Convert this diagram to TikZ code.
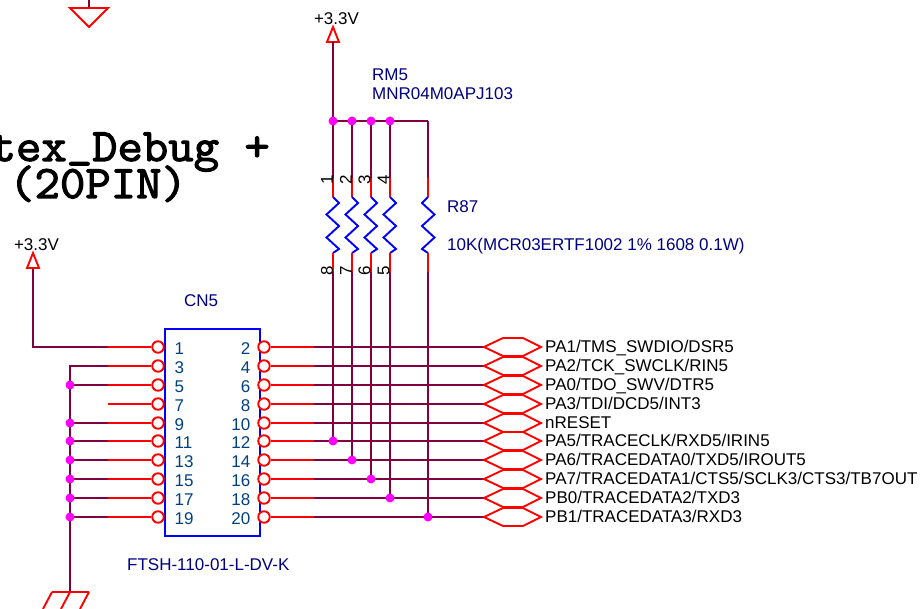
\documentclass[tikz,border=0pt]{standalone}
\usepackage{fontspec}
\setmainfont{Liberation Sans}
\newfontfamily\titlefont[FakeBold=2.5,FakeStretch=1.06]{Latin Modern Mono}
\usetikzlibrary{calc}
\definecolor{wirec}{HTML}{800040}
\definecolor{labc}{HTML}{000080}
\definecolor{pinc}{HTML}{004080}
\definecolor{jcol}{RGB}{255,0,255}
\definecolor{redc}{RGB}{255,0,0}
\definecolor{bluec}{RGB}{0,0,255}
\tikzset{
  wirepath/.style={draw=wirec,line width=1.9pt},
  redpath/.style={draw=redc,line width=1.9pt},
  bluepath/.style={draw=bluec,line width=1.9pt},
  pincirc/.style={circle,draw=redc,line width=1.9pt,minimum size=11.5pt,inner sep=0pt,fill=white},
  junc/.style={circle,fill=jcol,minimum size=9pt,inner sep=0pt},
  txt/.style={font=\fontsize{17}{18}\selectfont,inner sep=0pt},
  nettxt/.style={txt,anchor=base west,text=black},
  partxt/.style={txt,anchor=base west,text=labc},
  pintxt/.style={txt,text=pinc},
  vertxt/.style={txt,text=black,rotate=90,anchor=center},
  titletxt/.style={font=\titlefont\fontsize{46.5}{46.5}\selectfont,inner sep=0pt,text=black},
  hexa/.pic={\draw[redpath,line join=miter,fill=white] (0,0) -- (19,-9) -- (39,-9) -- (57,0) -- (39,9) -- (19,9) -- cycle;}
}
\begin{document}
\begin{tikzpicture}[x=1pt,y=-1pt]
\useasboundingbox (0,0) rectangle (922,609);

% title
\node[titletxt,anchor=base east] (title1) at (270,161) {tex\raisebox{5pt}{\_}Debug +};
\node[titletxt,anchor=base west] (title2) at (9,198) {(20PIN)};

% top-left ground
\coordinate (gndTopIn) at (89,0);
\coordinate (gndTop) at (89,8);
\draw[wirepath] (gndTopIn) -- (gndTop);
\draw[redpath] (70,8) -- (108,8) -- (89,27) -- cycle;

% connector body
\node[draw=bluec,line width=1.9pt,minimum width=95pt,minimum height=207pt,inner sep=0pt,anchor=north west] (CN) at (164,328) {};
\node[partxt] (cn5) at (184,307) {CN5};
\node[partxt] (ftsh) at (127,571) {FTSH-110-01-L-DV-K};

% pins
\foreach \n [count=\i from 0] in {1,3,...,19}{
  \pgfmathsetmacro{\yy}{round(347.3+18.8*\i)}
  \node[pincirc] (L\n) at (158,\yy) {};
  \coordinate (LS\n) at (108,\yy);
  \draw[redpath] (LS\n) -- (L\n);
  \node[pintxt,anchor=base west] (LT\n) at (174.5,\yy+7.5) {\n};
}
\foreach \n [count=\i from 0] in {2,4,...,20}{
  \pgfmathsetmacro{\yy}{round(347.3+18.8*\i)}
  \node[pincirc] (R\n) at (264,\yy) {};
  \coordinate (RS\n) at (314,\yy);
  \coordinate (H\n) at (484,\yy);
  \draw[redpath] (R\n) -- (RS\n);
  \draw[wirepath] (RS\n) -- (H\n);
  \pic at (H\n) {hexa};
  \node[pintxt,anchor=base east] (RT\n) at (250.5,\yy+7.5) {\n};
}

% net labels
\node[nettxt] at ($(H2)+(61,6)$)  {PA1/TMS\_SWDIO/DSR5};
\node[nettxt] at ($(H4)+(61,6)$)  {PA2/TCK\_SWCLK/RIN5};
\node[nettxt] at ($(H6)+(61,6)$)  {PA0/TDO\_SWV/DTR5};
\node[nettxt] at ($(H8)+(61,6)$)  {PA3/TDI/DCD5/INT3};
\node[nettxt] at ($(H10)+(61,6)$) {nRESET};
\node[nettxt] at ($(H12)+(61,6)$) {PA5/TRACECLK/RXD5/IRIN5};
\node[nettxt] at ($(H14)+(61,6)$) {PA6/TRACEDATA0/TXD5/IROUT5};
\node[nettxt] at ($(H16)+(61,6)$) {PA7/TRACEDATA1/CTS5/SCLK3/CTS3/TB7OUT};
\node[nettxt] at ($(H18)+(61,6)$) {PB0/TRACEDATA2/TXD3};
\node[nettxt] at ($(H20)+(61,6)$) {PB1/TRACEDATA3/RXD3};

% left wiring
\coordinate (vcc2) at (33,268);
\coordinate (gndBus) at (70,592);
\draw[wirepath] (vcc2) |- (LS1);
\draw[wirepath] (gndBus) -- (70,366) -- (LS3);
\foreach \n in {5,9,11,13,15,17,19}{
  \draw[wirepath] (70,0 |- LS\n) -- (LS\n);
  \node[junc] at (70,0 |- LS\n) {};
}
\draw[redpath] (33,253) -- (39,268) -- (27,268) -- cycle;
\node[txt,anchor=base,text=black] (v2) at (36.5,251) {+3.3V};

% bottom ground
\draw[redpath] (52,592) -- (89,592);
\draw[redpath] (52,592) -- (43,609) (70,592) -- (61,609) (89,592) -- (80,609);

% resistor network
\coordinate (vcc1) at (333,42);
\draw[redpath] (333,27) -- (339,42) -- (327,42) -- cycle;
\node[txt,anchor=base,text=black] (v1) at (336.5,25) {+3.3V};
\coordinate (T1) at (333,121);
\coordinate (T2) at (352,121);
\coordinate (T3) at (371,121);
\coordinate (T4) at (390,121);
\coordinate (T5) at (428,121);
\draw[wirepath] (vcc1) -- (T1) -- (T5);
\foreach \k/\xx/\pn/\dir in {1/333/12/1, 2/352/14/1, 3/371/16/1, 4/390/18/1, 5/428/20/-1}{
  \draw[wirepath] (T\k) -- (\xx,178);
  \draw[redpath] (\xx,178) -- (\xx,197);
  \draw[bluepath] (\xx,197) -- ++(6*\dir,6) -- ++(-12.5*\dir,11.5) -- ++(12.5*\dir,11.5) -- ++(-12.5*\dir,11.5) -- ++(12.5*\dir,11.5) -- (\xx,253);
  \draw[redpath] (\xx,253) -- (\xx,272);
  \draw[wirepath] (\xx,272) -- (\xx,0 |- R\pn);
  \node[junc] at (\xx,0 |- R\pn) {};
}
\foreach \k in {1,2,3,4}{\node[junc] at (T\k) {};}
\foreach \xx/\a/\b in {327/1/8,346/2/7,364.5/3/6,383.5/4/5}{
  \node[vertxt] at (\xx,180) {\a};
  \node[vertxt] at (\xx,271) {\b};
}
\node[partxt] (rm5) at (372,81) {RM5};
\node[partxt] (rm5v) at (372,100) {MNR04M0APJ103};
\node[partxt] (r87) at (447,213) {R87};
\node[partxt] (r87v) at (447,251) {10K(MCR03ERTF1002 1\% 1608 0.1W)};
\end{tikzpicture}
\end{document}
